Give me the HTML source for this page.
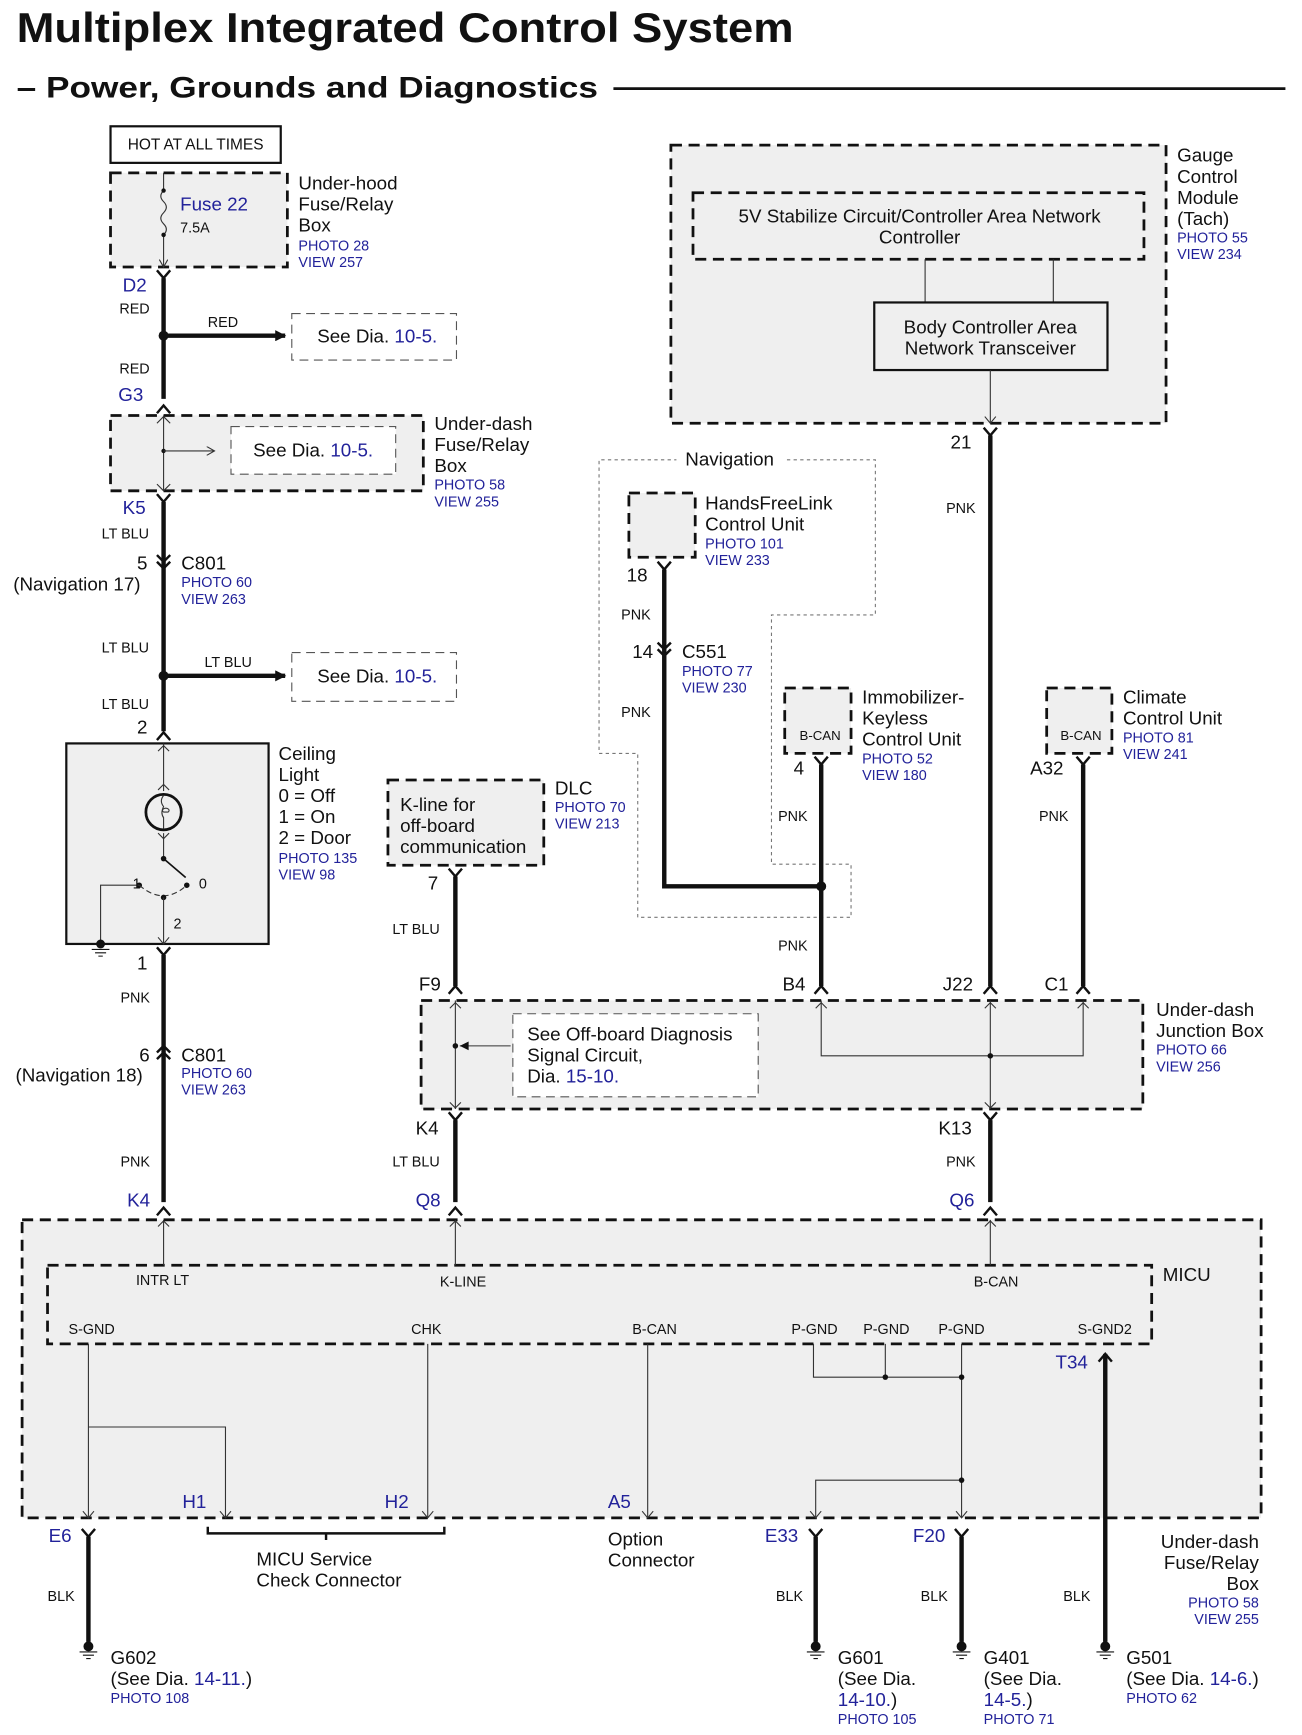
<!DOCTYPE html>
<html><head><meta charset="utf-8"><style>
html,body{margin:0;padding:0;background:#fff}
svg{display:block}
text{font-family:"Liberation Sans",Arial,sans-serif;fill:#111}
.b{fill:#22229a}
.s{font-size:13px}
.m{font-size:17px}
.w{font-size:13px}
.box{fill:#efefef;stroke:#111;stroke-width:2.5;stroke-dasharray:10,6}
.ibox{fill:none;stroke:#111;stroke-width:2.5;stroke-dasharray:10,6}
.thin{stroke:#333;stroke-width:1;fill:none}
.thick{stroke:#111;stroke-width:4;fill:none}
.cn{stroke:#111;stroke-width:2.2;fill:none}
.dbox{fill:#fff;stroke:#555;stroke-width:1;stroke-dasharray:8,5}
</style></head><body>
<svg width="1302" height="1735" viewBox="0 0 1178 1566" preserveAspectRatio="none" xmlns="http://www.w3.org/2000/svg">
<defs>
<marker id="ah" markerWidth="10" markerHeight="10" refX="9" refY="5" orient="auto" markerUnits="userSpaceOnUse"><path d="M0,0 L10,5 L0,10 z" fill="#111"/></marker>
<marker id="ta" markerWidth="8" markerHeight="8" refX="7" refY="4" orient="auto" markerUnits="userSpaceOnUse"><path d="M0,0 L7,4 L0,8" fill="none" stroke="#333" stroke-width="1"/></marker>
</defs>
<text x="15" y="38" font-size="38" font-weight="bold" textLength="703" lengthAdjust="spacingAndGlyphs">Multiplex Integrated Control System</text>
<text x="15" y="88" font-size="27" font-weight="bold" textLength="526" lengthAdjust="spacingAndGlyphs">– Power, Grounds and Diagnostics</text>
<line x1="555" y1="80" x2="1163" y2="80" stroke="#111" stroke-width="2.5"/>

<!-- HOT -->
<rect x="100" y="114" width="154" height="33" fill="#fff" stroke="#111" stroke-width="2"/>
<text x="177" y="135" font-size="14" text-anchor="middle">HOT AT ALL TIMES</text>
<rect class="box" x="100" y="156" width="160" height="85"/>
<path class="thin" d="M148,156 V172 q-5,5 0,10 q5,5 0,10 q-5,5 0,10 q5,5 0,10 V241" marker-end="url(#ta)"/>
<circle cx="148" cy="172" r="2" fill="#111"/><circle cx="148" cy="212" r="2" fill="#111"/>
<text x="163" y="190" class="m b">Fuse 22</text><text x="163" y="210" class="s">7.5A</text>
<text x="270" y="171" class="m">Under-hood</text><text x="270" y="190" class="m">Fuse/Relay</text><text x="270" y="209" class="m">Box</text>
<text x="270" y="226" class="w b">PHOTO 28</text><text x="270" y="241" class="w b">VIEW 257</text>

<text x="111" y="263" class="m b">D2</text>
<path class="cn" d="M142,244 L148,251 L154,244"/>
<line class="thick" x1="148" y1="251" x2="148" y2="360"/>
<text x="108" y="283" class="s">RED</text>
<circle cx="148" cy="303" r="4.5" fill="#111"/>
<line class="thick" x1="148" y1="303" x2="258" y2="303" marker-end="url(#ah)"/>
<text x="188" y="295" class="s">RED</text>
<rect class="dbox" x="264" y="283" width="149" height="42"/>
<text x="287" y="309" class="m">See Dia. <tspan class="b">10-5.</tspan></text>
<text x="108" y="337" class="s">RED</text>
<text x="107" y="362" class="m b">G3</text>
<path class="cn" d="M142,373 L148,366 L154,373"/>

<rect class="box" x="100" y="375" width="283" height="68"/>
<line class="thin" x1="148" y1="375" x2="148" y2="443"/>
<path class="thin" d="M142,382 L148,376 L154,382 M142,437 L148,443 L154,437"/>
<circle cx="148" cy="407" r="2" fill="#111"/>
<line class="thin" x1="148" y1="407" x2="194" y2="407" marker-end="url(#ta)"/>
<rect class="dbox" x="209" y="385" width="149" height="43" fill="none"/>
<text x="229" y="412" class="m">See Dia. <tspan class="b">10-5.</tspan></text>
<text x="393" y="388" class="m">Under-dash</text><text x="393" y="407" class="m">Fuse/Relay</text><text x="393" y="426" class="m">Box</text>
<text x="393" y="442" class="w b">PHOTO 58</text><text x="393" y="457" class="w b">VIEW 255</text>

<text x="111" y="464" class="m b">K5</text>
<path class="cn" d="M142,446 L148,453 L154,446"/>
<line class="thick" x1="148" y1="453" x2="148" y2="660"/>
<text x="92" y="486" class="s">LT BLU</text>
<path class="cn" d="M142,501 L148,507 L154,501 M142,507 L148,513 L154,507"/>
<text x="124" y="514" class="m">5</text>
<text x="164" y="514" class="m">C801</text><text x="12" y="533" class="m">(Navigation 17)</text>
<text x="164" y="530" class="w b">PHOTO 60</text><text x="164" y="545" class="w b">VIEW 263</text>
<text x="92" y="589" class="s">LT BLU</text>
<circle cx="148" cy="610" r="4.5" fill="#111"/>
<line class="thick" x1="148" y1="610" x2="258" y2="610" marker-end="url(#ah)"/>
<text x="185" y="602" class="s">LT BLU</text>
<rect class="dbox" x="264" y="589" width="149" height="44"/>
<text x="287" y="616" class="m">See Dia. <tspan class="b">10-5.</tspan></text>
<text x="92" y="640" class="s">LT BLU</text>
<text x="124" y="662" class="m">2</text>
<path class="cn" d="M142,668 L148,661 L154,668"/>

<!-- Ceiling light -->
<rect x="60" y="671" width="183" height="181" fill="#efefef" stroke="#111" stroke-width="2"/>
<line class="thin" x1="148" y1="671" x2="148" y2="714"/>
<path class="thin" d="M143,678 L148,673 L153,678 M143,713 L148,708 L153,713"/>
<circle cx="148" cy="733" r="16" fill="none" stroke="#111" stroke-width="2.5"/>
<path class="thin" d="M148,718 q-4,5 0,10 q-3,6 0,10 V748 M148,733 h4 a3,2 0 1 0 -4,0"/>
<line class="thin" x1="148" y1="752" x2="148" y2="775"/>
<path class="thin" d="M143,752 L148,757 L153,752"/>
<circle cx="148" cy="775" r="2.5" fill="#111"/>
<line x1="148" y1="775" x2="168" y2="792" stroke="#111" stroke-width="1.5"/>
<circle cx="169" cy="799" r="2.5" fill="#111"/><circle cx="126" cy="799" r="2.5" fill="#111"/>
<path d="M126,799 Q148,818 169,799" fill="none" stroke="#333" stroke-width="1" stroke-dasharray="5,3"/>
<circle cx="148" cy="810" r="2.5" fill="#111"/>
<line class="thin" x1="148" y1="810" x2="148" y2="852"/>
<path class="thin" d="M143,846 L148,852 L153,846"/>
<path class="thin" d="M126,799 H91 V852"/>
<circle cx="91" cy="852" r="4" fill="#111"/>
<path d="M83,857 H99 M86,860 H96 M89,863 H93" stroke="#111" stroke-width="1"/>
<text x="120" y="802" class="s">1</text><text x="180" y="802" class="s">0</text><text x="157" y="838" class="s">2</text>
<text x="252" y="686" class="m">Ceiling</text><text x="252" y="705" class="m">Light</text><text x="252" y="724" class="m">0 = Off</text>
<text x="252" y="743" class="m">1 = On</text><text x="252" y="762" class="m">2 = Door</text>
<text x="252" y="779" class="w b">PHOTO 135</text><text x="252" y="794" class="w b">VIEW 98</text>

<text x="124" y="875" class="m">1</text>
<path class="cn" d="M142,855 L148,862 L154,855"/>
<line class="thick" x1="148" y1="862" x2="148" y2="1085"/>
<text x="109" y="905" class="s">PNK</text>
<path class="cn" d="M142,950 L148,944 L154,950 M142,956 L148,950 L154,956"/>
<text x="126" y="958" class="m">6</text>
<text x="164" y="958" class="m">C801</text><text x="14" y="976" class="m">(Navigation 18)</text>
<text x="164" y="973" class="w b">PHOTO 60</text><text x="164" y="988" class="w b">VIEW 263</text>
<text x="109" y="1053" class="s">PNK</text>
<text x="115" y="1089" class="m b">K4</text>
<path class="cn" d="M142,1097 L148,1090 L154,1097"/>

<!-- DLC -->
<rect class="box" x="351" y="704" width="141" height="77"/>
<text x="362" y="732" class="m">K-line for</text><text x="362" y="751" class="m">off-board</text><text x="362" y="770" class="m">communication</text>
<text x="502" y="717" class="m">DLC</text><text x="502" y="733" class="w b">PHOTO 70</text><text x="502" y="748" class="w b">VIEW 213</text>
<text x="387" y="803" class="m">7</text>
<path class="cn" d="M406,784 L412,791 L418,784"/>
<line class="thick" x1="412" y1="791" x2="412" y2="890"/>
<text x="355" y="843" class="s">LT BLU</text>
<text x="379" y="894" class="m">F9</text>
<path class="cn" d="M406,897 L412,890 L418,897"/>

<!-- Junction box -->
<rect class="box" x="381" y="903" width="653" height="98"/>
<line class="thin" x1="412" y1="903" x2="412" y2="1001"/>
<path class="thin" d="M407,910 L412,905 L417,910 M407,995 L412,1000 L417,995"/>
<circle cx="412" cy="944" r="2.5" fill="#111"/>
<line class="thin" x1="462" y1="944" x2="416" y2="944"/>
<path d="M416,944 L424,940 L424,948 z" fill="#111"/>
<rect class="dbox" x="464" y="915" width="222" height="75" fill="none"/>
<text x="477" y="939" class="m">See Off-board Diagnosis</text><text x="477" y="958" class="m">Signal Circuit,</text>
<text x="477" y="977" class="m">Dia. <tspan class="b">15-10.</tspan></text>
<path class="thin" d="M743,903 V953 H980 V903 M896,903 V1001"/>
<path class="thin" d="M738,910 L743,905 L748,910 M975,910 L980,905 L985,910 M891,910 L896,905 L901,910 M891,995 L896,1000 L901,995"/>
<circle cx="896" cy="953" r="2.5" fill="#111"/>
<text x="1046" y="917" class="m">Under-dash</text><text x="1046" y="936" class="m">Junction Box</text>
<text x="1046" y="952" class="w b">PHOTO 66</text><text x="1046" y="967" class="w b">VIEW 256</text>

<text x="376" y="1024" class="m">K4</text>
<path class="cn" d="M406,1004 L412,1011 L418,1004"/>
<line class="thick" x1="412" y1="1011" x2="412" y2="1085"/>
<text x="355" y="1053" class="s">LT BLU</text>
<text x="376" y="1089" class="m b">Q8</text>
<path class="cn" d="M406,1097 L412,1090 L418,1097"/>
<text x="849" y="1024" class="m">K13</text>
<path class="cn" d="M890,1004 L896,1011 L902,1004"/>
<line class="thick" x1="896" y1="1011" x2="896" y2="1085"/>
<text x="856" y="1053" class="s">PNK</text>
<text x="859" y="1089" class="m b">Q6</text>
<path class="cn" d="M890,1097 L896,1090 L902,1097"/>

<!-- Gauge -->
<rect class="box" x="607" y="131" width="448" height="251"/>
<rect class="ibox" x="627" y="174" width="408" height="60"/>
<text x="832" y="201" class="m" text-anchor="middle">5V Stabilize Circuit/Controller Area Network</text>
<text x="832" y="220" class="m" text-anchor="middle">Controller</text>
<path class="thin" d="M837,234 V273 M953,234 V273"/>
<rect x="791" y="273" width="211" height="61" fill="#efefef" stroke="#111" stroke-width="2"/>
<text x="896" y="301" class="m" text-anchor="middle">Body Controller Area</text>
<text x="896" y="320" class="m" text-anchor="middle">Network Transceiver</text>
<line class="thin" x1="896" y1="334" x2="896" y2="382"/>
<path class="thin" d="M891,376 L896,382 L901,376"/>
<text x="1065" y="146" class="m">Gauge</text><text x="1065" y="165" class="m">Control</text><text x="1065" y="184" class="m">Module</text>
<text x="1065" y="203" class="m">(Tach)</text><text x="1065" y="219" class="w b">PHOTO 55</text><text x="1065" y="234" class="w b">VIEW 234</text>
<text x="860" y="405" class="m">21</text>
<path class="cn" d="M890,386 L896,393 L902,386"/>
<line class="thick" x1="896" y1="393" x2="896" y2="890"/>
<text x="856" y="463" class="s">PNK</text>
<text x="853" y="894" class="m">J22</text>
<path class="cn" d="M890,897 L896,890 L902,897"/>

<!-- Navigation region -->
<path d="M712,415 H792 V555 H698 V780 H770 V828 H577 V680 H542 V415 H612" fill="none" stroke="#777" stroke-width="1" stroke-dasharray="3,3"/>
<text x="620" y="420" class="m">Navigation</text>
<rect class="box" x="569" y="445" width="60" height="58"/>
<text x="638" y="460" class="m">HandsFreeLink</text><text x="638" y="479" class="m">Control Unit</text>
<text x="638" y="495" class="w b">PHOTO 101</text><text x="638" y="510" class="w b">VIEW 233</text>
<text x="567" y="525" class="m">18</text>
<path class="cn" d="M595,507 L601,514 L607,507"/>
<path class="thick" d="M601,514 V800 H743"/>
<text x="562" y="559" class="s">PNK</text>
<path class="cn" d="M595,580 L601,586 L607,580 M595,586 L601,592 L607,586"/>
<text x="572" y="594" class="m">14</text>
<text x="617" y="594" class="m">C551</text><text x="617" y="610" class="w b">PHOTO 77</text><text x="617" y="625" class="w b">VIEW 230</text>
<text x="562" y="647" class="s">PNK</text>

<rect class="box" x="710" y="621" width="60" height="59"/>
<text x="742" y="668" font-size="12" text-anchor="middle">B-CAN</text>
<text x="780" y="635" class="m">Immobilizer-</text><text x="780" y="654" class="m">Keyless</text><text x="780" y="673" class="m">Control Unit</text>
<text x="780" y="689" class="w b">PHOTO 52</text><text x="780" y="704" class="w b">VIEW 180</text>
<text x="718" y="699" class="m">4</text>
<path class="cn" d="M737,683 L743,690 L749,683"/>
<line class="thick" x1="743" y1="690" x2="743" y2="890"/>
<circle cx="743" cy="800" r="4.5" fill="#111"/>
<text x="704" y="741" class="s">PNK</text><text x="704" y="858" class="s">PNK</text>
<text x="708" y="894" class="m">B4</text>
<path class="cn" d="M737,897 L743,890 L749,897"/>

<rect class="box" x="947" y="621" width="59" height="59"/>
<text x="978" y="668" font-size="12" text-anchor="middle">B-CAN</text>
<text x="1016" y="635" class="m">Climate</text><text x="1016" y="654" class="m">Control Unit</text>
<text x="1016" y="670" class="w b">PHOTO 81</text><text x="1016" y="685" class="w b">VIEW 241</text>
<text x="932" y="699" class="m">A32</text>
<path class="cn" d="M974,683 L980,690 L986,683"/>
<line class="thick" x1="980" y1="690" x2="980" y2="890"/>
<text x="940" y="741" class="s">PNK</text>
<text x="945" y="894" class="m">C1</text>
<path class="cn" d="M974,897 L980,890 L986,897"/>

<!-- MICU -->
<rect class="box" x="20" y="1101" width="1121" height="269"/>
<rect class="ibox" x="43" y="1142" width="999" height="71"/>
<text x="1052" y="1156" class="m">MICU</text>
<g font-size="13">
<text x="123" y="1160">INTR LT</text><text x="398" y="1161">K-LINE</text><text x="881" y="1161">B-CAN</text>
<text x="62" y="1204">S-GND</text><text x="372" y="1204">CHK</text><text x="572" y="1204">B-CAN</text>
<text x="716" y="1204">P-GND</text><text x="781" y="1204">P-GND</text><text x="849" y="1204">P-GND</text><text x="975" y="1204">S-GND2</text>
</g>
<path class="thin" d="M148,1101 V1142 M412,1101 V1142 M896,1101 V1142"/>
<path class="thin" d="M143,1107 L148,1102 L153,1107 M407,1107 L412,1102 L417,1107 M891,1107 L896,1102 L901,1107"/>
<path class="thin" d="M80,1213 V1370 M80,1288 H204 V1370 M387,1213 V1370 M586,1213 V1370 M736,1213 V1243 H870 M801,1213 V1243 M870,1213 V1370 M870,1336 H738 V1370"/>
<path class="thin" d="M75,1364 L80,1370 L85,1364 M199,1364 L204,1370 L209,1364 M382,1364 L387,1370 L392,1364 M581,1364 L586,1370 L591,1364 M865,1364 L870,1370 L875,1364 M733,1364 L738,1370 L743,1364"/>
<circle cx="801" cy="1243" r="2.5" fill="#111"/><circle cx="870" cy="1243" r="2.5" fill="#111"/><circle cx="870" cy="1336" r="2.5" fill="#111"/>
<text x="955" y="1235" class="m b">T34</text>
<path class="cn" d="M994,1229 L1000,1222 L1006,1229"/>
<line class="thick" x1="1000" y1="1222" x2="1000" y2="1482"/>
<text x="165" y="1361" class="m b">H1</text><text x="348" y="1361" class="m b">H2</text><text x="550" y="1361" class="m b">A5</text>

<!-- bottom -->
<text x="44" y="1392" class="m b">E6</text>
<path class="cn" d="M74,1380 L80,1387 L86,1380"/>
<line class="thick" x1="80" y1="1387" x2="80" y2="1482"/>
<text x="43" y="1445" class="s">BLK</text>
<path class="cn" d="M188,1378 V1384 H402 V1378 M295,1384 V1390"/>
<text x="232" y="1413" class="m">MICU Service</text><text x="232" y="1432" class="m">Check Connector</text>
<text x="550" y="1395" class="m">Option</text><text x="550" y="1414" class="m">Connector</text>
<text x="692" y="1392" class="m b">E33</text>
<path class="cn" d="M732,1380 L738,1387 L744,1380"/>
<line class="thick" x1="738" y1="1387" x2="738" y2="1482"/>
<text x="702" y="1445" class="s">BLK</text>
<text x="826" y="1392" class="m b">F20</text>
<path class="cn" d="M864,1380 L870,1387 L876,1380"/>
<line class="thick" x1="870" y1="1387" x2="870" y2="1482"/>
<text x="833" y="1445" class="s">BLK</text>
<text x="962" y="1445" class="s">BLK</text>
<g fill="#111" stroke="#111">
<circle cx="80" cy="1486" r="4"/><path d="M72,1491 H88 M75,1494 H85 M78,1497 H82" stroke-width="1"/>
<circle cx="738" cy="1486" r="4"/><path d="M730,1491 H746 M733,1494 H743 M736,1497 H740" stroke-width="1"/>
<circle cx="870" cy="1486" r="4"/><path d="M862,1491 H878 M865,1494 H875 M868,1497 H872" stroke-width="1"/>
<circle cx="1000" cy="1486" r="4"/><path d="M992,1491 H1008 M995,1494 H1005 M998,1497 H1002" stroke-width="1"/>
</g>
<text x="100" y="1502" class="m">G602</text><text x="100" y="1521" class="m">(See Dia. <tspan class="b">14-11.</tspan>)</text>
<text x="100" y="1537" class="w b">PHOTO 108</text>
<text x="758" y="1502" class="m">G601</text><text x="758" y="1521" class="m">(See Dia.</text>
<text x="758" y="1540" class="m"><tspan class="b">14-10.</tspan>)</text><text x="758" y="1556" class="w b">PHOTO 105</text>
<text x="890" y="1502" class="m">G401</text><text x="890" y="1521" class="m">(See Dia.</text>
<text x="890" y="1540" class="m"><tspan class="b">14-5.</tspan>)</text><text x="890" y="1556" class="w b">PHOTO 71</text>
<text x="1019" y="1502" class="m">G501</text><text x="1019" y="1521" class="m">(See Dia. <tspan class="b">14-6.</tspan>)</text>
<text x="1019" y="1537" class="w b">PHOTO 62</text>
<g text-anchor="end">
<text x="1139" y="1397" class="m">Under-dash</text><text x="1139" y="1416" class="m">Fuse/Relay</text><text x="1139" y="1435" class="m">Box</text>
<text x="1139" y="1451" class="w b">PHOTO 58</text><text x="1139" y="1466" class="w b">VIEW 255</text>
</g>
</svg>
</body></html>
